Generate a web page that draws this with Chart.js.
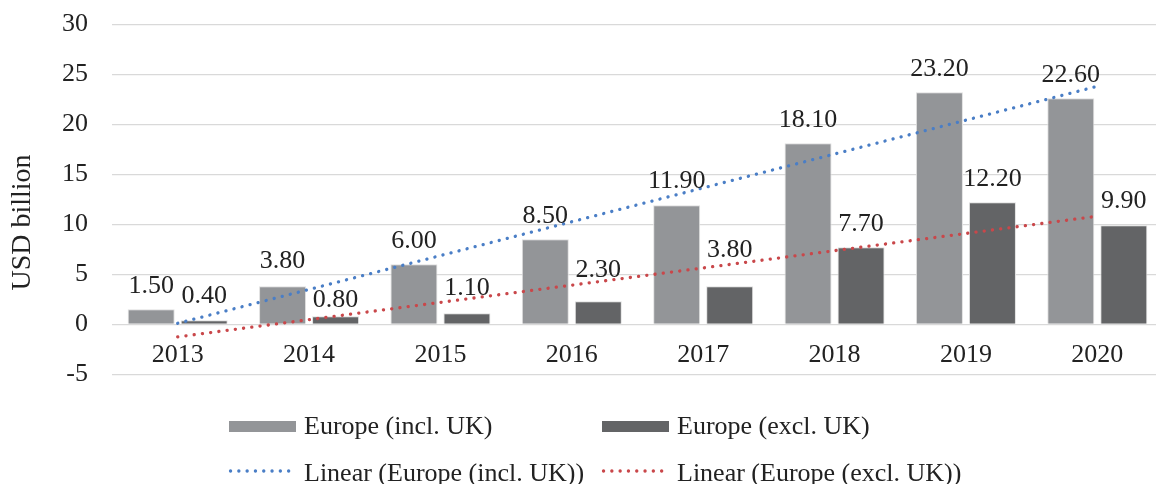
<!DOCTYPE html>
<html><head><meta charset="utf-8">
<script src="https://cdn.jsdelivr.net/npm/chart.js@4"></script>
<style>
html,body{margin:0;padding:0;background:#fff;overflow:hidden;width:1156px;height:484px}
#wrap{position:relative;width:1170px;height:484px}
</style></head>
<body><div id="wrap"><canvas id="c" width="1170" height="484"></canvas></div>
<script>
// ---- data ----
const categories = ['2013','2014','2015','2016','2017','2018','2019','2020'];
const europeInclUK = [1.5, 3.8, 6.0, 8.5, 11.9, 18.1, 23.2, 22.6];
const europeExclUK = [0.4, 0.8, 1.1, 2.3, 3.8, 7.7, 12.2, 9.9];
const seriesNames = ['Europe (incl. UK)', 'Europe (excl. UK)'];
const yMin = -5, yMax = 30, yStep = 5;

// ---- styling ----
const FONT = "'Liberation Serif','Times New Roman',serif";
const TEXT = '#222222';
const colIncl = '#939598', colExcl = '#636466';
const colTrendIncl = '#4a7ec6', colTrendExcl = '#c9474a';
// manual data-label gaps (px above bar top), as placed in the original
const labelGapIncl = [16.3, 18, 16, 16, 17, 16.6, 16.6, 16.6];
const labelGapExcl = [17.3, 9.6, 18.3, 24.6, 29.6, 16.6, 16.6, 17];

// least-squares trendline of a series (Excel "Linear" trendline)
function linearTrend(vals) {
  const n = vals.length;
  const xs = vals.map((_, i) => i + 1);
  const mx = xs.reduce((a, b) => a + b, 0) / n;
  const my = vals.reduce((a, b) => a + b, 0) / n;
  let sxy = 0, sxx = 0;
  xs.forEach((x, i) => { sxy += (x - mx) * (vals[i] - my); sxx += (x - mx) * (x - mx); });
  const b = sxy / sxx, a = my - b * mx;
  return xs.map(x => a + b * x);
}

const extras = {
  id: 'extras',
  afterDatasetsDraw(chart, args, opts) {
    const ctx = chart.ctx;
    ctx.save();
    ctx.font = '26px ' + FONT;
    ctx.fillStyle = TEXT;
    ctx.textAlign = 'center';
    ctx.textBaseline = 'alphabetic';
    [0, 1].forEach(di => {
      const meta = chart.getDatasetMeta(di);
      const vals = chart.data.datasets[di].data;
      const gaps = opts.gaps[di];
      meta.data.forEach((el, i) => {
        ctx.fillText(vals[i].toFixed(2), el.x, el.y - gaps[i]);
      });
    });
    ctx.restore();
  },
  afterDraw(chart, args, opts) {
    const ctx = chart.ctx;
    // axis title
    ctx.save();
    ctx.font = '28px ' + FONT;
    ctx.fillStyle = TEXT;
    ctx.translate(opts.titleX, opts.titleY);
    ctx.rotate(-Math.PI / 2);
    ctx.textAlign = 'center';
    ctx.textBaseline = 'middle';
    ctx.fillText(opts.title, 0, 0);
    ctx.restore();
    // legend (2 x 2)
    const ds = chart.data.datasets;
    const order = [[0, 0, 0], [1, 1, 0], [2, 0, 1], [3, 1, 1]];
    ctx.save();
    ctx.font = '26px ' + FONT;
    ctx.textAlign = 'left';
    ctx.textBaseline = 'alphabetic';
    order.forEach(([di, c, r]) => {
      const d = ds[di];
      const x = opts.legendX[c], base = opts.legendBase[r];
      if (d.type === 'line') {
        ctx.save();
        ctx.strokeStyle = d.borderColor;
        ctx.lineWidth = d.borderWidth;
        ctx.lineCap = 'round';
        ctx.setLineDash(d.borderDash);
        ctx.beginPath();
        ctx.moveTo(x + 1.5, base - 10);
        ctx.lineTo(x + opts.swatchW, base - 10);
        ctx.stroke();
        ctx.restore();
      } else {
        ctx.fillStyle = d.backgroundColor;
        ctx.fillRect(x, base - 13, opts.swatchW, 11);
      }
      ctx.fillStyle = TEXT;
      ctx.fillText(d.label, x + opts.swatchW + 8, base);
    });
    ctx.restore();
  }
};

const trendIncl = linearTrend(europeInclUK);
const trendExcl = linearTrend(europeExclUK);

new Chart(document.getElementById('c'), {
  type: 'bar',
  data: {
    labels: categories,
    datasets: [
      { type: 'bar', label: seriesNames[0], data: europeInclUK, backgroundColor: colIncl,
        borderColor: '#e0e0e0', borderWidth: 1, order: 2,
        categoryPercentage: 0.807, barPercentage: 0.887 },
      { type: 'bar', label: seriesNames[1], data: europeExclUK, backgroundColor: colExcl,
        borderColor: '#e0e0e0', borderWidth: 1, order: 2,
        categoryPercentage: 0.807, barPercentage: 0.887 },
      { type: 'line', label: 'Linear (' + seriesNames[0] + ')', data: trendIncl,
        borderColor: colTrendIncl, borderWidth: 3.3, borderDash: [0.1, 8.2], borderCapStyle: 'round',
        pointRadius: 0, fill: false, tension: 0, order: 0 },
      { type: 'line', label: 'Linear (' + seriesNames[1] + ')', data: trendExcl,
        borderColor: colTrendExcl, borderWidth: 3.3, borderDash: [0.1, 8.2], borderCapStyle: 'round',
        pointRadius: 0, fill: false, tension: 0, order: 0 }
    ]
  },
  options: {
    responsive: false,
    animation: false,
    devicePixelRatio: 1,
    layout: { padding: { left: 0, right: 7, top: 24.3, bottom: 109.7 } },
    plugins: {
      legend: { display: false },
      tooltip: { enabled: false },
      extras: {
        gaps: [labelGapIncl, labelGapExcl],
        title: 'USD billion', titleX: 23, titleY: 222.5,
        legendX: [229, 602], legendBase: [434, 481], swatchW: 67
      }
    },
    scales: {
      x: {
        position: { y: 0 },
        grid: { display: false, drawTicks: false },
        border: { display: false },
        ticks: { font: { family: FONT, size: 26 }, color: TEXT, padding: 15.6, maxRotation: 0 }
      },
      y: {
        min: yMin, max: yMax,
        afterFit(s) { s.width = 112; s.paddingTop = 15; s.paddingBottom = 15; },
        grid: { color: '#d9d9d9', lineWidth: 1.3, drawTicks: false },
        border: { display: false },
        ticks: { stepSize: yStep, font: { family: FONT, size: 26 }, color: TEXT, padding: 24 }
      }
    }
  },
  plugins: [extras]
});
</script>
</body></html>
